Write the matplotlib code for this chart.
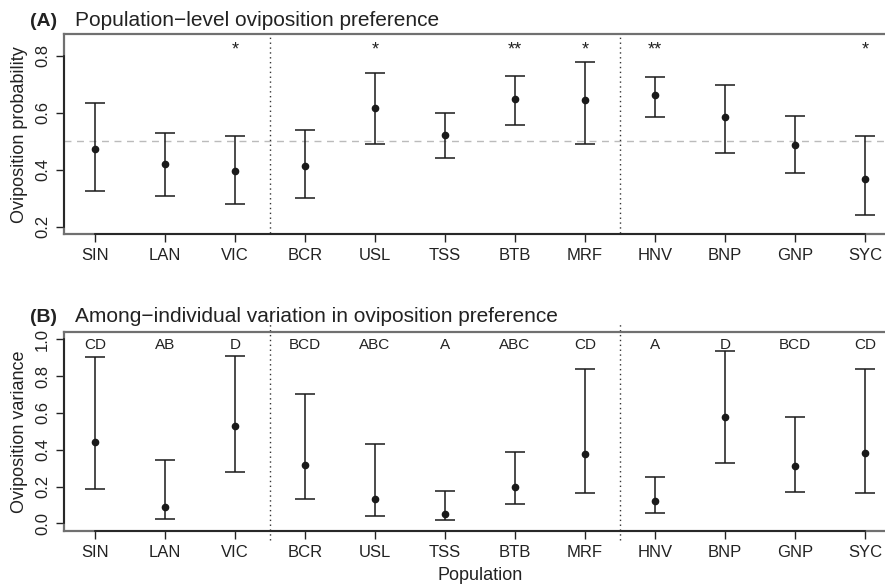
import numpy as np
import matplotlib.pyplot as plt

plt.rcParams['font.family'] = ['Liberation Sans', 'DejaVu Sans']

# Populations in plotting order
populations = ['SIN', 'LAN', 'VIC', 'BCR', 'USL', 'TSS', 'BTB', 'MRF', 'HNV', 'BNP', 'GNP', 'SYC']

# (A) population-level oviposition probability with 95% intervals
prob_mean = [0.474, 0.420, 0.394, 0.414, 0.618, 0.521, 0.648, 0.644, 0.661, 0.586, 0.487, 0.369]
prob_low = [0.325, 0.307, 0.279, 0.301, 0.489, 0.442, 0.556, 0.489, 0.586, 0.460, 0.389, 0.241]
prob_high = [0.634, 0.530, 0.520, 0.541, 0.739, 0.598, 0.729, 0.780, 0.727, 0.698, 0.588, 0.520]
prob_signif = ['', '', '*', '', '*', '', '**', '*', '**', '', '', '*']

# (B) among-individual variance in oviposition with 95% intervals
var_mean = [0.444, 0.089, 0.527, 0.315, 0.132, 0.051, 0.199, 0.377, 0.120, 0.580, 0.313, 0.382]
var_low = [0.186, 0.025, 0.281, 0.134, 0.040, 0.020, 0.103, 0.165, 0.054, 0.326, 0.168, 0.165]
var_high = [0.904, 0.344, 0.909, 0.703, 0.433, 0.176, 0.388, 0.839, 0.252, 0.935, 0.578, 0.837]
var_groups = ['CD', 'AB', 'D', 'BCD', 'ABC', 'A', 'ABC', 'CD', 'A', 'D', 'BCD', 'CD']

# region breaks between population groups
breaks = [3.5, 8.5]

x = np.arange(1, len(populations) + 1)

fig = plt.figure(figsize=(8.85, 5.86), dpi=100)
axA = fig.add_axes([0.0723, 0.6007, 0.940, 0.3408])
axB = fig.add_axes([0.0723, 0.0944, 0.940, 0.3390])


def draw_panel(ax, mean, low, high, ylim, yticks):
    mean = np.array(mean)
    err = [mean - np.array(low), np.array(high) - mean]
    ax.errorbar(x, mean, yerr=err, fmt='o', color='#1a1a1a', ms=4.5,
                elinewidth=1.1, capsize=7, capthick=1.1, zorder=3)
    ax.set_xlim(0.56, 12.44)
    ax.set_ylim(ylim)
    ax.set_xticks(x)
    ax.set_xticklabels(populations, fontsize=12, color='#222222')
    ax.set_yticks(yticks)
    ax.set_yticklabels(['%.1f' % t for t in yticks], fontsize=12,
                       rotation=90, va='center', color='#222222')
    ax.tick_params(length=6, width=1, color='#222222', pad=4)
    for s in ax.spines.values():
        s.set_color('#707070')
        s.set_linewidth(1.6)
    # black axis lines spanning the tick range
    ax.plot([0.56, 0.56], [yticks[0], yticks[-1]], color='#1a1a1a', lw=1.2, clip_on=False, zorder=4)
    ax.plot([1, 12], [ylim[0], ylim[0]], color='#1a1a1a', lw=1.2, clip_on=False, zorder=4)


# Panel A
draw_panel(axA, prob_mean, prob_low, prob_high, (0.174, 0.876), [0.2, 0.4, 0.6, 0.8])
axA.axhline(0.5, color='#bbbbbb', lw=1, ls=(0, (5, 4)), zorder=1)
for b in breaks:
    axA.plot([b, b], [0.177, 0.865], color='#333333', lw=1, ls=(0, (1, 2.5)))
for xi, s in zip(x, prob_signif):
    axA.text(xi, 0.822, s, ha='center', va='center', fontsize=13, color='#222222')
axA.set_ylabel('Oviposition probability', fontsize=13, color='#222222', labelpad=5)
fig.text(0.034, 0.9556, '(A)', fontsize=14, fontweight='bold', color='#222222')
fig.text(0.0847, 0.9556, 'Population\u2212level oviposition preference', fontsize=15, color='#222222')

# Panel B
draw_panel(axB, var_mean, var_low, var_high, (-0.04, 1.04), [0.0, 0.2, 0.4, 0.6, 0.8, 1.0])
for b in breaks:
    axB.plot([b, b], [-0.09, 1.095], color='#333333', lw=1, ls=(0, (1, 2.5)), clip_on=False)
for xi, g in zip(x, var_groups):
    axB.text(xi, 0.97, g, ha='center', va='center', fontsize=11, color='#222222')
axB.set_ylabel('Oviposition variance', fontsize=13, color='#222222', labelpad=5)
axB.set_xlabel('Population', fontsize=13, color='#222222', labelpad=5)
fig.text(0.034, 0.451, '(B)', fontsize=14, fontweight='bold', color='#222222')
fig.text(0.0847, 0.451, 'Among\u2212individual variation in oviposition preference', fontsize=15, color='#222222')

fig.savefig('out.png', dpi=100)
